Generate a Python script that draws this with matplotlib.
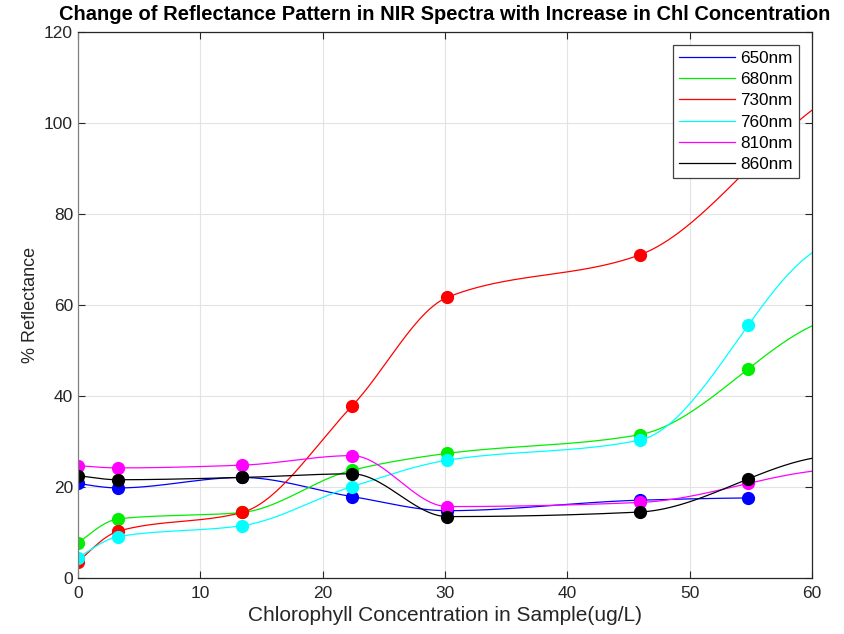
import numpy as np
import matplotlib
matplotlib.use('Agg')
import matplotlib.pyplot as plt

plt.rcParams['font.family'] = ['Liberation Sans', 'DejaVu Sans']

chl = [0.0, 3.3, 13.4, 22.4, 30.2, 45.9, 54.8]

r650 = [20.8, 19.8, 22.1, 17.9, 14.8, 17.1, 17.6]
r680 = [7.7, 13.0, 14.4, 23.7, 27.4, 31.5, 46.0]
r730 = [3.5, 10.3, 14.4, 37.8, 61.7, 71.0, 90.0]
r760 = [4.4, 9.1, 11.5, 20.1, 25.9, 30.3, 55.6]
r810 = [24.7, 24.2, 24.8, 26.9, 15.7, 16.6, 20.8]
r860 = [22.5, 21.6, 22.1, 22.9, 13.5, 14.5, 21.8]

labels = ['650nm', '680nm', '730nm', '760nm', '810nm', '860nm']
colors = ['#0000ff', '#00ee00', '#ff0000', '#00ffff', '#ff00ff', '#000000']
series = [r650, r680, r730, r760, r810, r860]
# 650nm curve stops at the last sample, the others run to the axis edge
x_end = [54.8, 60, 60, 60, 60, 60]


def pchip(x, y, xq):
    # shape-preserving piecewise cubic, same rules as MATLAB's pchip
    x = np.asarray(x, float)
    y = np.asarray(y, float)
    h = np.diff(x)
    d = np.diff(y) / h
    n = len(x)
    m = np.zeros(n)
    for k in range(1, n - 1):
        if d[k - 1] * d[k] > 0:
            w1 = 2 * h[k] + h[k - 1]
            w2 = h[k] + 2 * h[k - 1]
            m[k] = (w1 + w2) / (w1 / d[k - 1] + w2 / d[k])

    def end_slope(h0, h1, d0, d1):
        s = ((2 * h0 + h1) * d0 - h0 * d1) / (h0 + h1)
        if np.sign(s) != np.sign(d0):
            s = 0.0
        elif np.sign(d0) != np.sign(d1) and abs(s) > abs(3 * d0):
            s = 3 * d0
        return s

    m[0] = end_slope(h[0], h[1], d[0], d[1])
    m[-1] = end_slope(h[-1], h[-2], d[-1], d[-2])

    xq = np.asarray(xq, float)
    idx = np.clip(np.searchsorted(x, xq) - 1, 0, n - 2)
    t = xq - x[idx]
    hk = h[idx]
    dk = d[idx]
    c = (3 * dk - 2 * m[idx] - m[idx + 1]) / hk
    b = (m[idx] - 2 * dk + m[idx + 1]) / hk ** 2
    return y[idx] + t * (m[idx] + t * (c + t * b))


fig = plt.figure(figsize=(8.44, 6.34), dpi=100)
ax = fig.add_axes([0.0924, 0.0883, 0.8697, 0.8612])

for ys, col, lab, xe in zip(series, colors, labels, x_end):
    xs = np.linspace(0, xe, 400)
    ax.plot(xs, pchip(chl, ys, xs), color=col, lw=0.9, label=lab)
    ax.plot(chl, ys, 'o', color=col, ms=8.5, mec=col)

ax.set_xlim(0, 60)
ax.set_ylim(0, 120)
ax.set_xticks(range(0, 61, 10))
ax.set_yticks(range(0, 121, 20))
ax.grid(True, color='#e3e3e3', lw=0.8)
ax.set_axisbelow(True)
for s in ax.spines.values():
    s.set_color('#262626')
    s.set_linewidth(0.9)
ax.spines['left'].set_color('#808080')
ax.tick_params(direction='in', length=5, labelsize=12.5, colors='#262626',
               top=True, right=True, labeltop=False, labelright=False)
ax.tick_params(axis='x', pad=6)

ax.set_xlabel('Chlorophyll Concentration in Sample(ug/L)', fontsize=15,
              color='#262626', labelpad=3)
ax.set_ylabel('% Reflectance', fontsize=13, color='#262626')
ax.set_title('Change of Reflectance Pattern in NIR Spectra with Increase in Chl Concentration',
             fontsize=14.5, fontweight='bold', pad=9)

leg = ax.legend(loc='upper right', bbox_to_anchor=(0.982, 0.977), fontsize=12.3,
                frameon=True, fancybox=False, edgecolor='#404040', framealpha=1,
                handlelength=3.3, handletextpad=0.3, labelspacing=0.37,
                borderpad=0.35, borderaxespad=0)
leg.get_frame().set_linewidth(0.9)

fig.savefig('out.png', dpi=100)
